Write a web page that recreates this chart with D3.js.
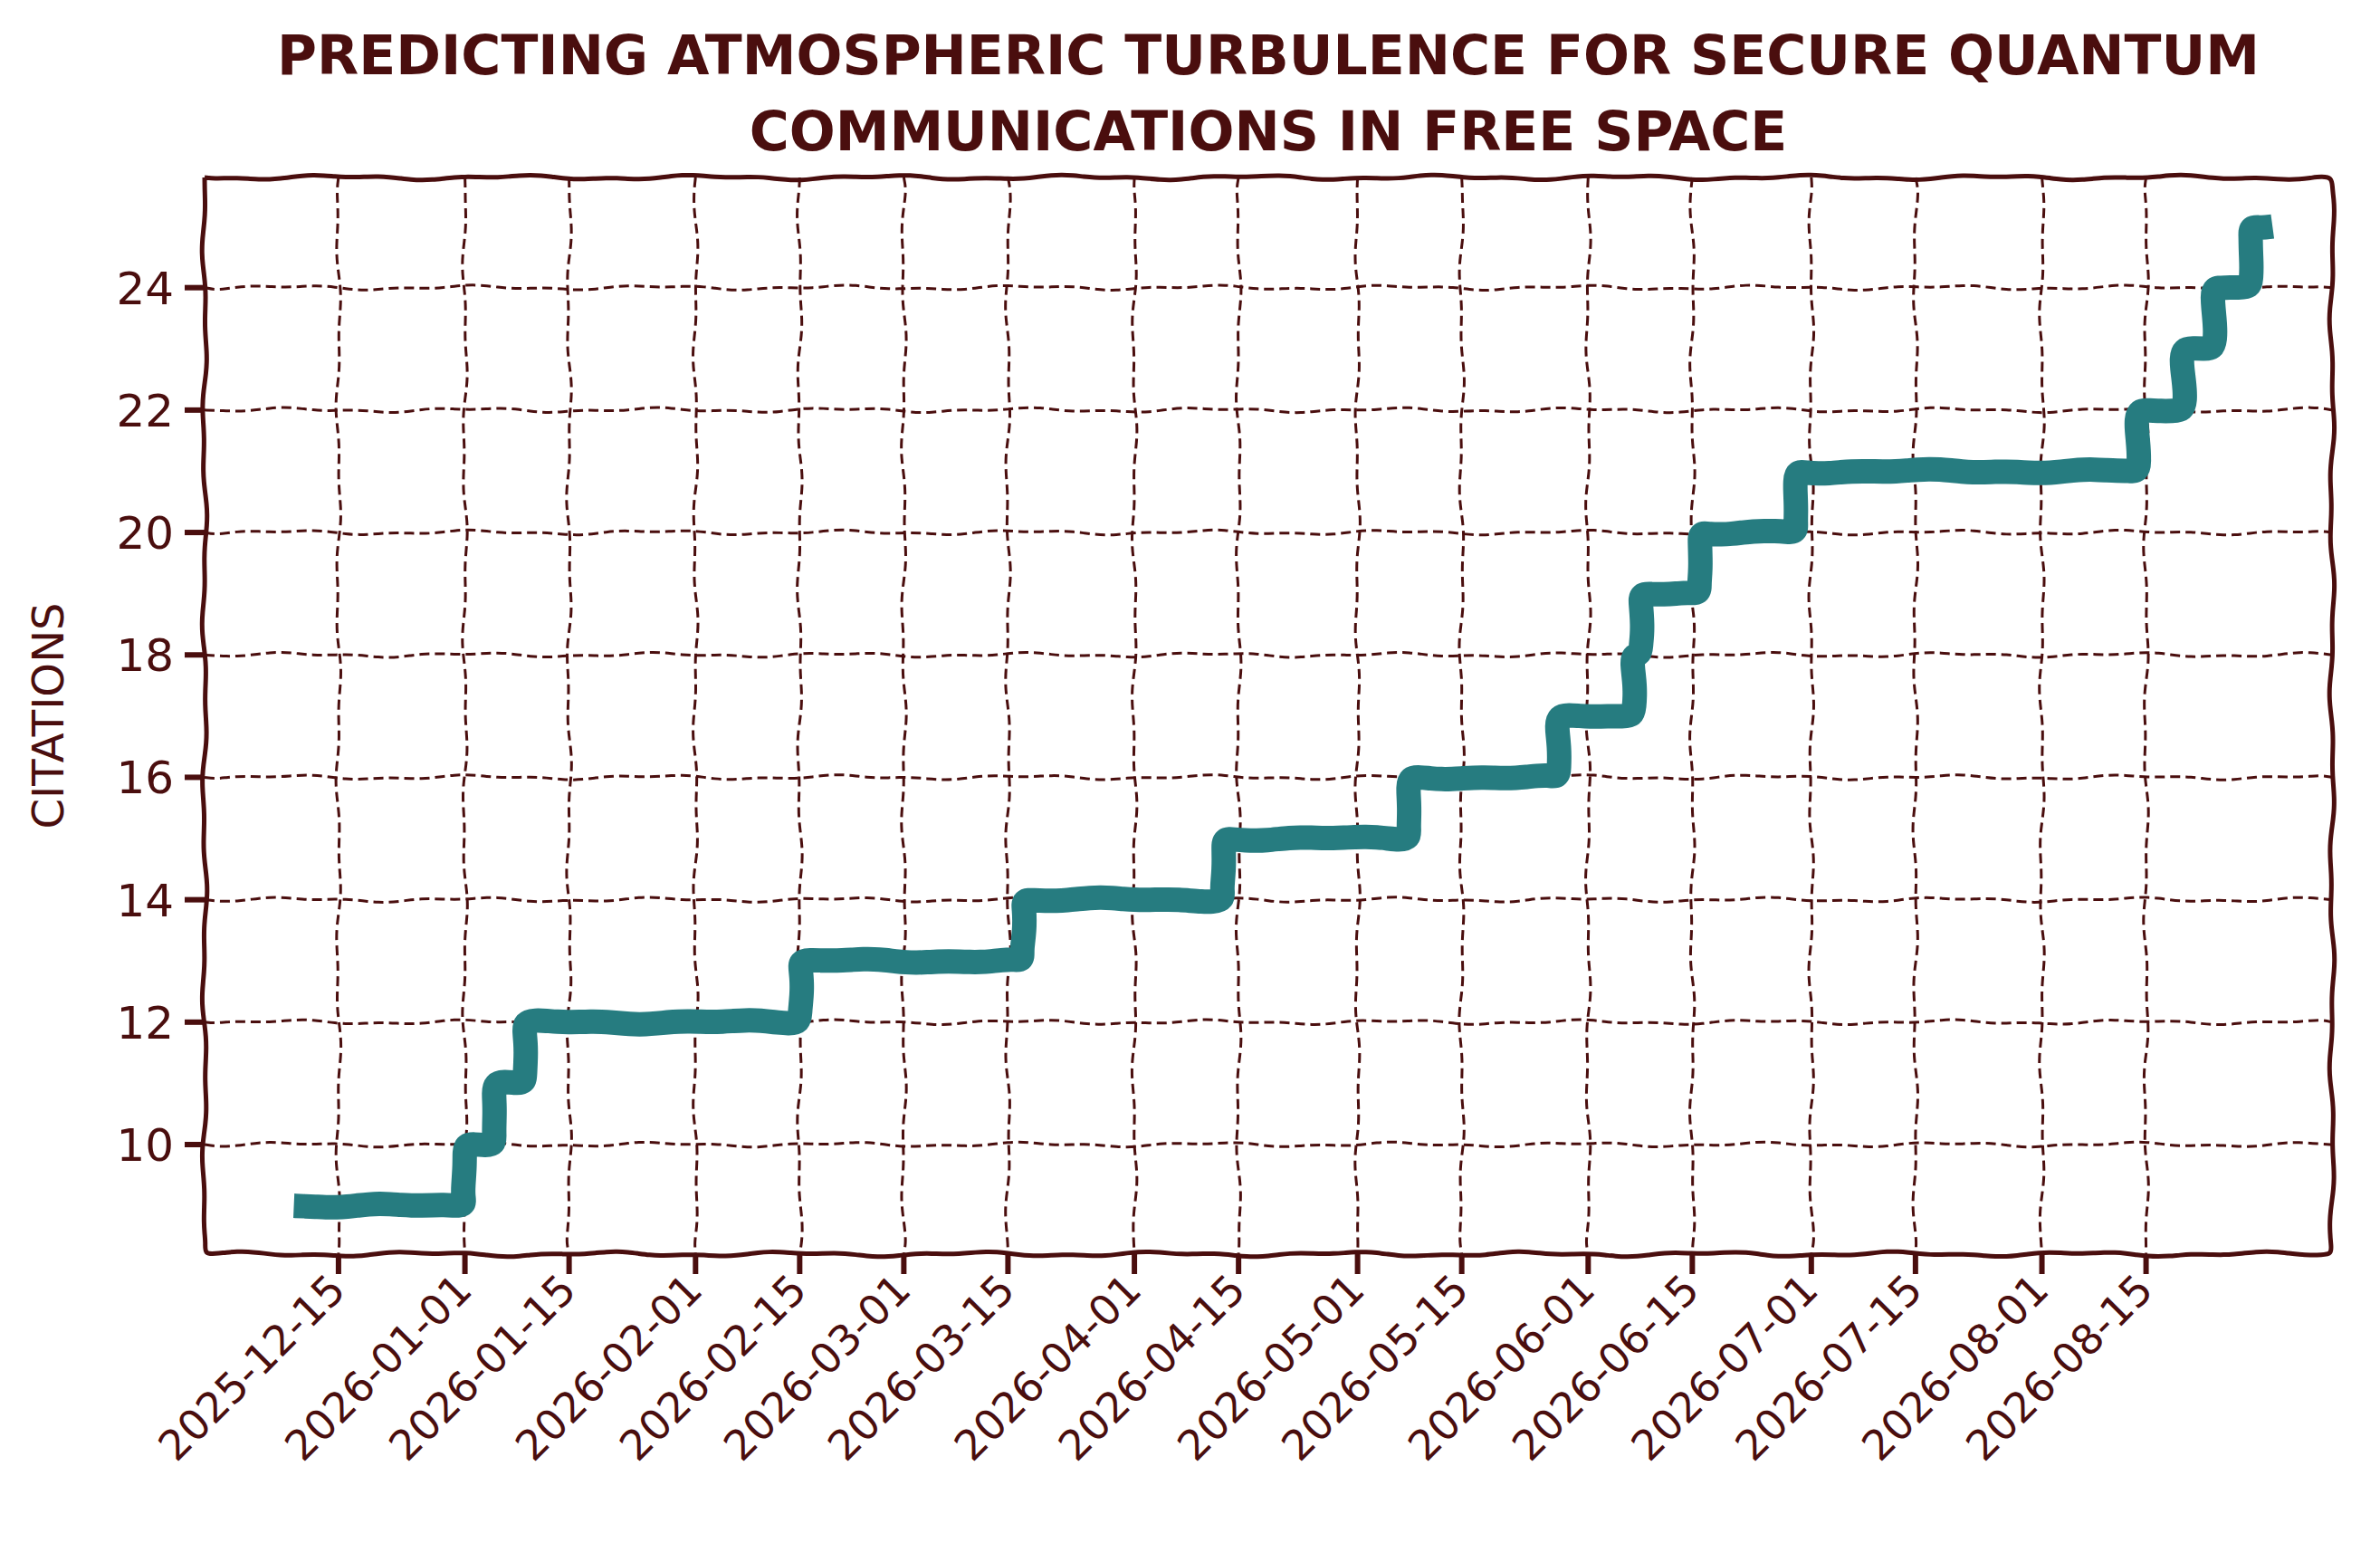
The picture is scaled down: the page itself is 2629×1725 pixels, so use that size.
<!DOCTYPE html>
<html><head><meta charset="utf-8">
<script src="https://cdn.jsdelivr.net/npm/d3@7"></script>
<style>body{margin:0;background:#fff}</style>
</head><body>
<svg id="chart" width="2629" height="1725"></svg>
<script>
// step dates and citation counts
var stepDates = ["2025-12-09","2026-01-01","2026-01-05","2026-01-09","2026-02-15","2026-03-17","2026-04-13","2026-05-08","2026-05-28","2026-06-07","2026-06-08","2026-06-16","2026-06-29","2026-08-14","2026-08-20","2026-08-24","2026-08-29","2026-09-01"];
var stepValues = [9,10,11,12,13,14,15,16,17,18,19,20,21,22,23,24,25,25];
var xTicks = ["2025-12-15","2026-01-01","2026-01-15","2026-02-01","2026-02-15","2026-03-01","2026-03-15","2026-04-01","2026-04-15","2026-05-01","2026-05-15","2026-06-01","2026-06-15","2026-07-01","2026-07-15","2026-08-01","2026-08-15"];
var yTicks = [10,12,14,16,18,20,22,24];

var ink = "#4a0e0e", teal = "#267c80";
var font = "'DejaVu Sans', sans-serif";
var m = {l:226, r:2576, t:196, b:1385};
var svg = d3.select("#chart");
var parse = d3.utcParse("%Y-%m-%d");
var x = d3.scaleUtc().domain([parse("2025-11-27"), parse("2026-09-09")]).range([m.l, m.r]);
var y = d3.scaleLinear().domain([8.21, 25.8]).range([m.b, m.t]);

// hand-drawn wobble helper
function wobbly(pts, amp, seed){
  var out = [];
  for (var i = 0; i < pts.length - 1; i++){
    var a = pts[i], b = pts[i+1], len = Math.hypot(b[0]-a[0], b[1]-a[1]);
    if (len < 1) continue;
    var n = Math.max(1, Math.round(len/12));
    var nx = -(b[1]-a[1])/len, ny = (b[0]-a[0])/len;
    for (var k = 0; k < n; k++){
      var t = k/n, s = i*7 + k + seed;
      var w = (k == 0 ? 0 : amp)*(Math.sin(s*0.37)*0.6 + Math.sin(s*0.91+1.3)*0.4);
      out.push([a[0]+(b[0]-a[0])*t + nx*w, a[1]+(b[1]-a[1])*t + ny*w]);
    }
  }
  out.push(pts[pts.length-1]);
  return d3.line().curve(d3.curveBasis)(out);
}

// grid
xTicks.forEach(function(d, i){
  var px = x(parse(d));
  svg.append("path").attr("d", wobbly([[px,m.t],[px,m.b]], 3, i*13))
    .attr("fill","none").attr("stroke",ink).attr("stroke-width",3).attr("stroke-dasharray","11,6");
});
yTicks.forEach(function(v, i){
  var py = y(v);
  svg.append("path").attr("d", wobbly([[m.l,py],[m.r,py]], 3, i*17+5))
    .attr("fill","none").attr("stroke",ink).attr("stroke-width",3).attr("stroke-dasharray","11,6");
});

// data line
var pts = [];
stepDates.forEach(function(d, i){
  var px = x(parse(d));
  if (i > 0) pts.push([px, y(stepValues[i-1])]);
  pts.push([px, y(stepValues[i])]);
});
svg.append("path").attr("d", wobbly(pts, 2.5, 3))
  .attr("fill","none").attr("stroke",teal).attr("stroke-width",27)
  .attr("stroke-linejoin","round").attr("stroke-linecap","butt");

// frame
svg.append("path").attr("d", wobbly([[m.l,m.t],[m.r,m.t],[m.r,m.b],[m.l,m.b],[m.l,m.t]], 3, 1))
  .attr("fill","none").attr("stroke",ink).attr("stroke-width",5);

// ticks and labels
xTicks.forEach(function(d){
  var px = x(parse(d));
  svg.append("line").attr("x1",px).attr("x2",px).attr("y1",m.b).attr("y2",m.b+22)
    .attr("stroke",ink).attr("stroke-width",6);
  svg.append("text").attr("transform","translate("+(px+10)+","+(m.b+42)+") rotate(-45)")
    .attr("text-anchor","end").attr("font-family",font).attr("font-size",46).attr("fill",ink)
    .text(d);
});
yTicks.forEach(function(v){
  var py = y(v);
  svg.append("line").attr("x1",m.l-22).attr("x2",m.l).attr("y1",py).attr("y2",py)
    .attr("stroke",ink).attr("stroke-width",6);
  svg.append("text").attr("x",m.l-34).attr("y",py).attr("dy","0.36em")
    .attr("text-anchor","end").attr("font-family",font).attr("font-size",50).attr("fill",ink)
    .text(v);
});

svg.append("text").attr("transform","translate(70,"+((m.t+m.b)/2)+") rotate(-90)")
  .attr("text-anchor","middle").attr("font-family",font).attr("font-size",48).attr("fill",ink)
  .text("CITATIONS");

svg.selectAll(".title").data(["PREDICTING ATMOSPHERIC TURBULENCE FOR SECURE QUANTUM","COMMUNICATIONS IN FREE SPACE"])
  .enter().append("text").attr("x",(m.l+m.r)/2).attr("y",function(d,i){return 82+i*84;})
  .attr("text-anchor","middle").attr("font-family",font).attr("font-size",60).attr("font-weight","bold")
  .attr("fill",ink).text(function(d){return d;});
</script>
</body></html>
